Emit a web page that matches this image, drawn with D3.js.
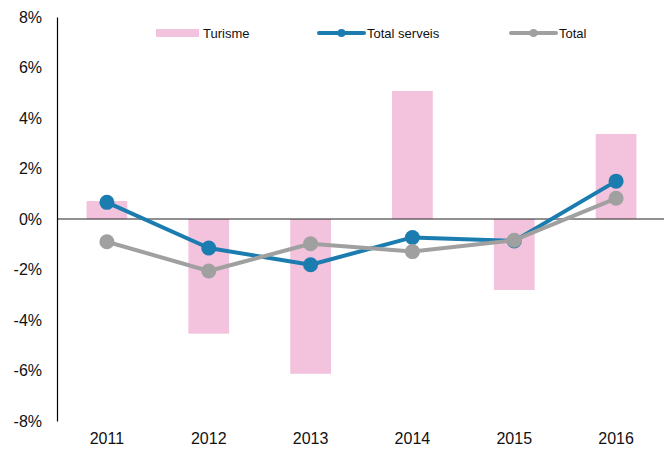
<!DOCTYPE html>
<html>
<head>
<meta charset="utf-8">
<script src="https://cdn.jsdelivr.net/npm/d3@7"></script>
<style>
  body { margin: 0; background: #fff; }
  svg { font-family: Arial, "Liberation Sans", sans-serif; }
</style>
</head>
<body>
<svg id="chart" width="664" height="450"></svg>
<script>
// dades
const years = ['2011', '2012', '2013', '2014', '2015', '2016'];
const turisme = [0.71, -4.54, -6.13, 5.07, -2.81, 3.37];
const totalServeis = [0.66, -1.15, -1.81, -0.73, -0.87, 1.50];
const total = [-0.90, -2.06, -0.98, -1.29, -0.84, 0.82];
const yTicks = [-8, -6, -4, -2, 0, 2, 4, 6, 8];

const pink = '#f3c2dc';
const blue = '#1b7daf';
const grey = '#a0a0a0';

const svg = d3.select('#chart');

// escales
const xScale = d3.scaleBand()
    .domain(years)
    .range([56, 667])
    .paddingInner(0.6)
    .paddingOuter(0.3);

const yScale = d3.scaleLinear()
    .domain([-8, 8])
    .range([421, 17]);

const cx = d => xScale(d) + xScale.bandwidth() / 2;

// barres Turisme
svg.append('g').selectAll('rect')
    .data(years.map((y, i) => ({ year: y, v: turisme[i] })))
    .join('rect')
    .attr('x', d => xScale(d.year))
    .attr('width', xScale.bandwidth())
    .attr('y', d => yScale(Math.max(0, d.v)))
    .attr('height', d => Math.abs(yScale(d.v) - yScale(0)))
    .attr('fill', pink);

// línia del zero
svg.append('line')
    .attr('x1', 57).attr('x2', 664)
    .attr('y1', yScale(0)).attr('y2', yScale(0))
    .attr('stroke', '#222').attr('stroke-width', 1.2);

// eix Y
const yAxis = d3.axisLeft(yScale)
    .tickValues(yTicks)
    .tickSize(0)
    .tickPadding(15)
    .tickFormat(d => d + '%');

const gy = svg.append('g')
    .attr('transform', 'translate(57,0)')
    .call(yAxis);
gy.select('.domain').attr('stroke', '#000').attr('stroke-width', 1.2);
gy.selectAll('text')
    .attr('font-size', 16)
    .attr('fill', '#111');

// eix X (només etiquetes)
const gx = svg.append('g')
    .attr('transform', 'translate(0,421)')
    .call(d3.axisBottom(xScale).tickSize(0).tickPadding(12));
gx.select('.domain').remove();
gx.selectAll('text')
    .attr('font-size', 16)
    .attr('fill', '#111');

// línies
const line = d3.line()
    .x(d => cx(d.year))
    .y(d => yScale(d.v));

function drawSeries(values, color) {
    const data = years.map((y, i) => ({ year: y, v: values[i] }));
    svg.append('path')
        .datum(data)
        .attr('fill', 'none')
        .attr('stroke', color)
        .attr('stroke-width', 4)
        .attr('stroke-linejoin', 'round')
        .attr('d', line);
    svg.append('g').selectAll('circle')
        .data(data)
        .join('circle')
        .attr('cx', d => cx(d.year))
        .attr('cy', d => yScale(d.v))
        .attr('r', 7.5)
        .attr('fill', color);
}

drawSeries(totalServeis, blue);
drawSeries(total, grey);

// llegenda
const legend = svg.append('g').attr('font-size', 13).attr('fill', '#111');
const ly = 33;

legend.append('rect')
    .attr('x', 156).attr('y', ly - 4)
    .attr('width', 43).attr('height', 8)
    .attr('fill', pink);
legend.append('text').attr('x', 203).attr('y', ly + 4.5).text('Turisme');

const lineItems = [
    { label: 'Total serveis', color: blue, x0: 319 },
    { label: 'Total', color: grey, x0: 511 }
];
lineItems.forEach(it => {
    legend.append('line')
        .attr('x1', it.x0).attr('x2', it.x0 + 45)
        .attr('y1', ly).attr('y2', ly)
        .attr('stroke', it.color).attr('stroke-width', 4)
        .attr('stroke-linecap', 'round');
    legend.append('circle')
        .attr('cx', it.x0 + 22.5).attr('cy', ly)
        .attr('r', 4).attr('fill', it.color);
    legend.append('text')
        .attr('x', it.x0 + 48).attr('y', ly + 4.5)
        .text(it.label);
});
</script>
</body>
</html>
